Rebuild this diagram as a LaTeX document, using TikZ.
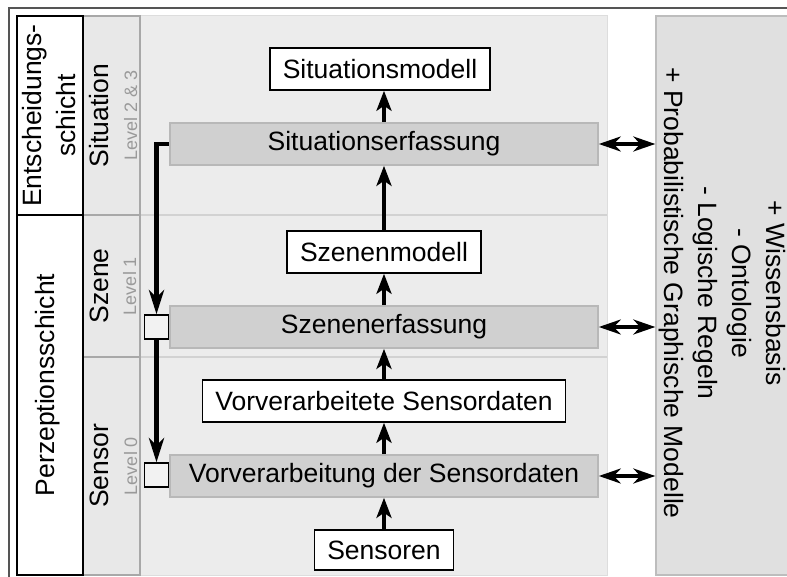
\documentclass[tikz,border=0pt]{standalone}
\usepackage{fontspec}
\setmainfont{Liberation Sans}
\usetikzlibrary{arrows.meta}

\definecolor{framegray}{HTML}{555555}
\definecolor{panelfill}{HTML}{ECECEC}
\definecolor{panelline}{HTML}{DDDDDD}
\definecolor{dividerline}{HTML}{D2D2D2}
\definecolor{levelfill}{HTML}{E8E8E8}
\definecolor{levelline}{HTML}{A8A8A8}
\definecolor{procfill}{HTML}{D0D0D0}
\definecolor{procline}{HTML}{B8B8B8}
\definecolor{kbfill}{HTML}{E0E0E0}
\definecolor{kbline}{HTML}{BDBDBD}
\definecolor{leveltext}{HTML}{9A9A9A}

\tikzset{
  bigtext/.style={font=\fontsize{26.5}{34}\selectfont},
  leveltag/.style={font=\fontsize{18}{20}\selectfont, text=leveltext},
  layerbox/.style={draw=black, fill=white, line width=1.6pt},
  levelbox/.style={draw=levelline, fill=levelfill, line width=1.4pt},
  procbox/.style={bigtext, draw=procline, fill=procfill, line width=1.6pt,
    minimum width=428pt, minimum height=42pt, inner sep=0pt},
  databox/.style={bigtext, draw=black, fill=white, line width=1.5pt,
    minimum height=42pt, inner xsep=13pt, inner ysep=0pt},
  gatebox/.style={draw=black, fill=white!95!black, line width=1.5pt,
    minimum size=24pt, inner sep=0pt},
  kbbox/.style={draw=kbline, fill=kbfill, line width=1.4pt, inner sep=0pt},
  flow/.style={line width=4.5pt, -{Stealth[length=20pt,width=15pt,inset=5pt]}},
  feed/.style={line width=4.5pt, -{Stealth[length=24pt,width=15pt,inset=7pt]}},
  kblink/.style={line width=3.4pt,
    {Stealth[length=22pt,width=15pt,inset=7pt]}-{Stealth[length=22pt,width=15pt,inset=7pt]}},
}

\begin{document}
\begin{tikzpicture}[x=1pt,y=-1pt]
\useasboundingbox (0,0) rectangle (787,577);
\clip (0,0) rectangle (787,577);

% outer frame
\draw[framegray, line width=1.2pt] (9,8) rectangle (800,590);

% working panel with level dividers
\draw[panelline, fill=panelfill, line width=1pt] (140,16) rectangle (607,575);
\draw[dividerline, line width=1.4pt] (140,215) -- (607,215);
\draw[dividerline, line width=1.4pt] (140,357) -- (607,357);

% level column
\draw[levelbox] (83,16) rectangle (140,215);
\draw[levelbox] (83,215) rectangle (140,357);
\draw[levelbox] (83,357) rectangle (140,575);

% layer column
\draw[layerbox] (17,16) rectangle (83,215);
\draw[layerbox] (17,215) rectangle (83,575);

\node[bigtext, rotate=90, align=center] (entsch) at (49,115.5) {Entscheidungs-\\schicht};
\node[bigtext, rotate=90, anchor=base] (perz) at (54,385) {Perzeptionsschicht};

\node[bigtext, rotate=90, anchor=base] (lsit) at (108,115.5) {Situation};
\node[leveltag, rotate=90, anchor=base] (lsitlvl) at (137,115.5) {Level 2 \& 3};
\node[bigtext, rotate=90, anchor=base] (lsz) at (108,286) {Szene};
\node[leveltag, rotate=90, anchor=base] (lszlvl) at (136,286) {Level 1};
\node[bigtext, rotate=90, anchor=base] (lsen) at (108,466) {Sensor};
\node[leveltag, rotate=90, anchor=base] (lsenlvl) at (137,466) {Level 0};

% knowledge base
\node[kbbox, minimum width=150pt, minimum height=559pt] (kb) at (731,295.5) {};
\node[bigtext, rotate=-90, align=center] (kbtext) at (722,293) {+ Wissensbasis\\- Ontologie\\- Logische Regeln\\+ Probabilistische Graphische Modelle};

% processing chain
\node[databox] (sitmod) at (380,69) {Situationsmodell};
\node[procbox] (sitcap) at (384,144) {Situationserfassung};
\node[databox] (szmod) at (384,252) {Szenenmodell};
\node[procbox] (szcap) at (384,327) {Szenenerfassung};
\node[databox] (vvdat) at (384,401) {Vorverarbeitete Sensordaten};
\node[procbox] (vvcap) at (384,476) {Vorverarbeitung der Sensordaten};
\node[databox, minimum height=40pt] (sens) at (384,550) {Sensoren};

\node[gatebox] (gsz) at (156.5,327) {};
\node[gatebox] (gsen) at (156.5,475) {};

\draw[flow] (sens) -- (vvcap);
\draw[flow] (vvcap) -- (vvdat);
\draw[flow] (vvdat) -- (szcap);
\draw[flow] (szcap) -- (szmod);
\draw[flow] (szmod) -- (sitcap);
\draw[flow] (sitcap.north) -- (sitcap.north |- sitmod.south);

% top-down feedback
\draw[feed] (sitcap.west) -| (gsz.north);
\draw[feed] (gsz.south) -- (gsen.north);

% links to the knowledge base
\draw[kblink] (sitcap.east) -- (sitcap.east -| kb.west);
\draw[kblink] (szcap.east) -- (szcap.east -| kb.west);
\draw[kblink] (vvcap.east) -- (vvcap.east -| kb.west);
\end{tikzpicture}
\end{document}
